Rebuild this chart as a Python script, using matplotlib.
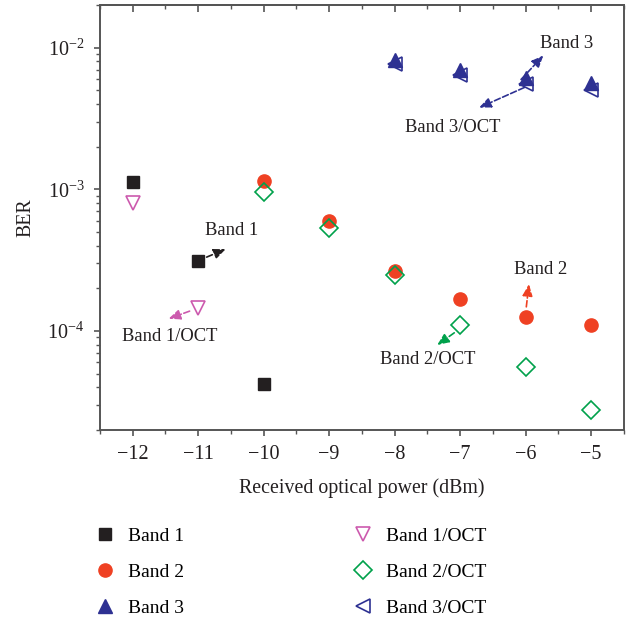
import numpy as np
import matplotlib
matplotlib.use("Agg")
import matplotlib.pyplot as plt
from matplotlib.ticker import LogLocator, MultipleLocator, NullFormatter

plt.rcParams['font.family'] = ['Liberation Serif', 'DejaVu Serif']
plt.rcParams['mathtext.fontset'] = 'stix'

# data
x_b1 = [-12, -11, -10]
ber_b1 = [1.12e-3, 3.1e-4, 4.2e-5]
x_b1oct = [-12, -11]
ber_b1oct = [8.0e-4, 1.45e-4]
x_b2 = [-10, -9, -8, -7, -6, -5]
ber_b2 = [1.14e-3, 6.0e-4, 2.65e-4, 1.68e-4, 1.26e-4, 1.1e-4]
x_b2oct = [-10, -9, -8, -7, -6, -5]
ber_b2oct = [9.5e-4, 5.3e-4, 2.48e-4, 1.1e-4, 5.6e-5, 2.78e-5]
x_b3 = [-8, -7, -6, -5]
ber_b3 = [8.2e-3, 6.9e-3, 6.15e-3, 5.6e-3]
x_b3oct = [-8, -7, -6, -5]
ber_b3oct = [7.7e-3, 6.45e-3, 5.57e-3, 5.06e-3]
xticks = [-12, -11, -10, -9, -8, -7, -6, -5]

c_black = "#231f20"
c_red = "#ef4123"
c_green = "#00a14b"
c_pink = "#cc5aae"
c_blue = "#2e3192"
c_axis = "#555555"

fig = plt.figure(figsize=(6.36, 6.21), dpi=100)
ax = fig.add_axes([0.157, 0.3076, 0.824, 0.6844])

h1, = ax.plot(x_b1, ber_b1, 's', color=c_black, ms=8.5, ls='none', label='Band 1')
h2, = ax.plot(x_b2, ber_b2, 'o', color=c_red, ms=9.5, ls='none', label='Band 2')
h3, = ax.plot(x_b3, ber_b3, '^', color=c_blue, ms=9.5, ls='none', label='Band 3')
h4, = ax.plot(x_b1oct, ber_b1oct, 'v', mfc='none', mec=c_pink, mew=1.2, ms=10.5, ls='none', label='Band 1/OCT')
h5, = ax.plot(x_b2oct, ber_b2oct, 'D', mfc='none', mec=c_green, mew=1.2, ms=9, ls='none', label='Band 2/OCT')
h6, = ax.plot(x_b3oct, ber_b3oct, '<', mfc='none', mec=c_blue, mew=1.2, ms=10.5, ls='none', label='Band 3/OCT')

ax.set_yscale('log')
ax.set_xlim(-12.5, -4.5)
ax.set_ylim(2e-5, 2e-2)
ax.xaxis.set_major_locator(MultipleLocator(1))
ax.xaxis.set_minor_locator(MultipleLocator(0.5))
ax.yaxis.set_major_locator(LogLocator(base=10, numticks=10))
ax.yaxis.set_minor_locator(LogLocator(base=10, subs=np.arange(2, 10), numticks=10))
ax.yaxis.set_minor_formatter(NullFormatter())
ax.tick_params(which='both', direction='out', top=False, right=False, colors=c_axis,
               labelcolor='#231f20', labelsize=14.5)
ax.tick_params(which='major', length=4, width=1.2, pad=7)
ax.tick_params(which='minor', length=3, width=1)
for s in ax.spines.values():
    s.set_color(c_axis)
    s.set_linewidth(1.4)

ax.set_xticks(xticks)
ax.set_xticklabels([str(v).replace('-', '\u2212') for v in xticks])

# top axis: inward ticks, no labels
top = ax.secondary_xaxis('top')
top.xaxis.set_major_locator(MultipleLocator(1))
top.xaxis.set_minor_locator(MultipleLocator(0.5))
top.tick_params(which='both', direction='in', colors=c_axis, labeltop=False)
top.tick_params(which='major', length=5, width=1.2)
top.tick_params(which='minor', length=3, width=1)
top.spines['top'].set_color(c_axis)
top.spines['top'].set_linewidth(1.4)

ax.set_xlabel('Received optical power (dBm)', fontsize=14.3, color='#231f20', labelpad=10)
ax.set_ylabel('BER', fontsize=14.3, color='#231f20', labelpad=9)

def note(text, start, end, textpos, color):
    ax.annotate('', xy=end, xytext=start,
                arrowprops=dict(arrowstyle='-|>,head_length=0.7,head_width=0.3', ls='--',
                                color=color, lw=1.2, shrinkA=0, shrinkB=0))
    ax.text(textpos[0], textpos[1], text, fontsize=13.4, color='#231f20', ha='center', va='center')

note('Band 1', (-10.87, 3.32e-4), (-10.58, 3.78e-4), (-10.49, 5.14e-4), c_black)
note('Band 1/OCT', (-11.13, 1.38e-4), (-11.45, 1.22e-4), (-11.44, 9.08e-5), c_pink)
note('Band 2', (-5.99, 1.48e-4), (-5.95, 2.14e-4), (-5.77, 2.73e-4), c_red)
note('Band 2/OCT', (-7.09, 9.7e-5), (-7.35, 7.96e-5), (-7.50, 6.25e-5), c_green)
note('Band 3', (-6.07, 5.96e-3), (-5.73, 8.8e-3), (-5.38, 1.07e-2), c_blue)
note('Band 3/OCT', (-6.02, 5.23e-3), (-6.71, 3.77e-3), (-7.12, 2.73e-3), c_blue)

fig.legend(handles=[h1, h2, h3, h4, h5, h6], ncol=2, frameon=False,
           loc='upper left', bbox_to_anchor=(0.131, 0.167), fontsize=14,
           handletextpad=0.6, columnspacing=8.6, labelspacing=0.95,
           handlelength=1.2, borderpad=0)

fig.savefig('out.png', dpi=100)
